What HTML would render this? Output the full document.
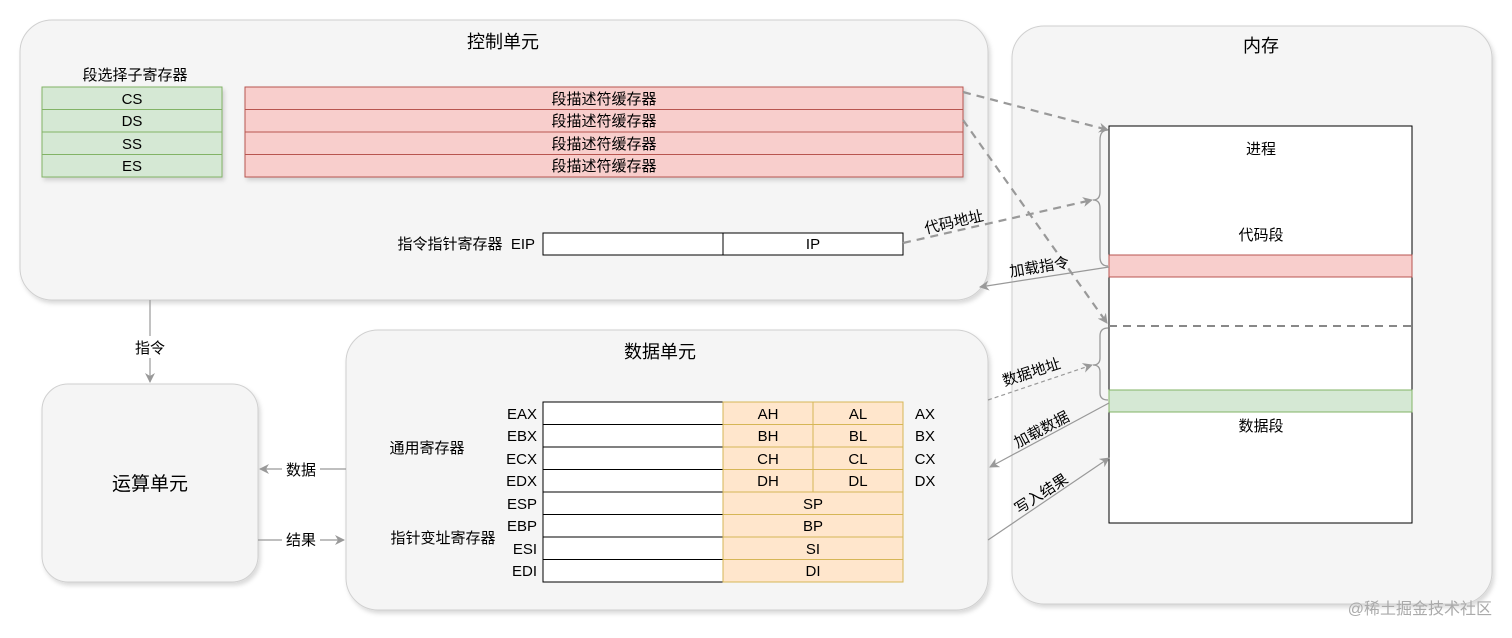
<!DOCTYPE html>
<html><head><meta charset="utf-8"><style>
html,body{margin:0;padding:0;background:#fff;}
svg{display:block;font-family:"Liberation Sans","Noto Sans CJK SC",sans-serif;}
text{font-size:15px;fill:#000;}
</style></head><body>
<svg width="1512" height="638" viewBox="0 0 1512 638" xmlns="http://www.w3.org/2000/svg">
<defs>
<filter id="sh" x="-5%" y="-5%" width="110%" height="115%"><feDropShadow dx="2" dy="3" stdDeviation="2" flood-color="#000" flood-opacity="0.15"/></filter>
<marker id="ar" markerWidth="10" markerHeight="10" refX="9" refY="5" orient="auto" markerUnits="userSpaceOnUse"><path d="M0,0 L10,5 L0,10 L3,5 Z" fill="#999"/></marker>
</defs>
<rect x="20" y="20" width="968" height="280" rx="32" fill="#f5f5f5" stroke="#d0d0d0" filter="url(#sh)"/>
<rect x="1012" y="26" width="480" height="578" rx="32" fill="#f5f5f5" stroke="#d0d0d0" filter="url(#sh)"/>
<rect x="346" y="330" width="642" height="280" rx="32" fill="#f5f5f5" stroke="#d0d0d0" filter="url(#sh)"/>
<rect x="42" y="384" width="216" height="198" rx="26" fill="#f5f5f5" stroke="#d0d0d0" filter="url(#sh)"/>
<text x="503" y="48" text-anchor="middle" style="font-size:18px">控制单元</text>
<text x="1261" y="52" text-anchor="middle" style="font-size:18px">内存</text>
<text x="660" y="358" text-anchor="middle" style="font-size:18px">数据单元</text>
<text x="150" y="490" text-anchor="middle" style="font-size:19px">运算单元</text>
<text x="135" y="80" text-anchor="middle">段选择子寄存器</text>
<g stroke="#82b366" fill="#d5e8d4" filter="url(#sh)">
<rect x="42" y="87" width="180" height="22.5"/><rect x="42" y="109.5" width="180" height="22.5"/><rect x="42" y="132" width="180" height="22.5"/><rect x="42" y="154.5" width="180" height="22.5"/>
</g>
<g stroke="#b85450" fill="#f8cecc" filter="url(#sh)">
<rect x="245" y="87" width="718" height="22.5"/><rect x="245" y="109.5" width="718" height="22.5"/><rect x="245" y="132" width="718" height="22.5"/><rect x="245" y="154.5" width="718" height="22.5"/>
</g>
<g text-anchor="middle">
<text x="132" y="104">CS</text><text x="132" y="126">DS</text><text x="132" y="149">SS</text><text x="132" y="171">ES</text>
<text x="604" y="104">段描述符缓存器</text><text x="604" y="126">段描述符缓存器</text><text x="604" y="149">段描述符缓存器</text><text x="604" y="171">段描述符缓存器</text>
</g>
<text x="535" y="249" text-anchor="end" xml:space="preserve">指令指针寄存器  EIP</text>
<rect x="543" y="233" width="180" height="22" fill="#fff" stroke="#000"/>
<rect x="723" y="233" width="180" height="22" fill="#fff" stroke="#000"/>
<text x="813" y="249" text-anchor="middle">IP</text>
<rect x="1109" y="126" width="303" height="397" fill="#fff" stroke="#000"/>
<rect x="1109" y="255" width="303" height="22" fill="#f8cecc" stroke="#b85450"/>
<rect x="1109" y="390" width="303" height="22" fill="#d5e8d4" stroke="#82b366"/>
<line x1="1109" y1="326" x2="1412" y2="326" stroke="#888" stroke-width="2" stroke-dasharray="8,6"/>
<text x="1261" y="154" text-anchor="middle">进程</text>
<text x="1261" y="240" text-anchor="middle">代码段</text>
<text x="1261" y="431" text-anchor="middle">数据段</text>
<path d="M1108,130 Q1100,130 1100,140 L1100,192 Q1100,200 1093,200 Q1100,200 1100,208 L1100,257 Q1100,266 1108,266" fill="none" stroke="#999" stroke-width="1.3"/>
<path d="M1108,328 Q1100,328 1100,336 L1100,358 Q1100,365 1093,365 Q1100,365 1100,372 L1100,393 Q1100,400 1108,400" fill="none" stroke="#999" stroke-width="1.3"/>
<g stroke="#000" fill="#fff">
<rect x="543" y="402" width="180" height="22.5"/><rect x="543" y="424.5" width="180" height="22.5"/><rect x="543" y="447" width="180" height="22.5"/><rect x="543" y="469.5" width="180" height="22.5"/>
<rect x="543" y="492" width="180" height="22.5"/><rect x="543" y="514.5" width="180" height="22.5"/><rect x="543" y="537" width="180" height="22.5"/><rect x="543" y="559.5" width="180" height="22.5"/>
</g>
<g fill="#ffe6cc" stroke="#d6b656">
<rect x="723" y="402" width="90" height="22.5"/><rect x="813" y="402" width="90" height="22.5"/>
<rect x="723" y="424.5" width="90" height="22.5"/><rect x="813" y="424.5" width="90" height="22.5"/>
<rect x="723" y="447" width="90" height="22.5"/><rect x="813" y="447" width="90" height="22.5"/>
<rect x="723" y="469.5" width="90" height="22.5"/><rect x="813" y="469.5" width="90" height="22.5"/>
<rect x="723" y="492" width="180" height="22.5"/><rect x="723" y="514.5" width="180" height="22.5"/><rect x="723" y="537" width="180" height="22.5"/><rect x="723" y="559.5" width="180" height="22.5"/>
</g>
<g text-anchor="end">
<text x="537" y="419">EAX</text><text x="537" y="441">EBX</text><text x="537" y="464">ECX</text><text x="537" y="486">EDX</text>
<text x="537" y="509">ESP</text><text x="537" y="531">EBP</text><text x="537" y="554">ESI</text><text x="537" y="576">EDI</text>
</g>
<g text-anchor="middle">
<text x="768" y="419">AH</text><text x="858" y="419">AL</text>
<text x="768" y="441">BH</text><text x="858" y="441">BL</text>
<text x="768" y="464">CH</text><text x="858" y="464">CL</text>
<text x="768" y="486">DH</text><text x="858" y="486">DL</text>
<text x="813" y="509">SP</text><text x="813" y="531">BP</text><text x="813" y="554">SI</text><text x="813" y="576">DI</text>
<text x="925" y="419">AX</text><text x="925" y="441">BX</text><text x="925" y="464">CX</text><text x="925" y="486">DX</text>
</g>
<text x="427" y="453" text-anchor="middle">通用寄存器</text>
<text x="443" y="543" text-anchor="middle">指针变址寄存器</text>
<g stroke="#999" stroke-width="1.2" fill="none" marker-end="url(#ar)">
<line x1="150" y1="300" x2="150" y2="382"/>
<line x1="346" y1="469" x2="260" y2="469"/>
<line x1="258" y1="540" x2="344" y2="540"/>
<line x1="1109" y1="267" x2="980" y2="287"/>
<line x1="1109" y1="403" x2="990" y2="467"/>
<line x1="988" y1="540" x2="1109" y2="458"/>
<line x1="988" y1="400" x2="1092" y2="365" stroke-dasharray="4,3"/>
</g>
<g stroke="#999" stroke-width="2.2" fill="none" stroke-dasharray="8,6" marker-end="url(#ar)">
<line x1="963" y1="92" x2="1108" y2="130"/>
<line x1="963" y1="120" x2="1107" y2="323"/>
<line x1="903" y1="243" x2="1092" y2="200"/>
</g>
<g>
<rect x="132" y="336" width="36" height="22" fill="#fff"/><text x="150" y="353" text-anchor="middle">指令</text>
<rect x="282" y="460" width="38" height="20" fill="#fff"/><text x="301" y="475" text-anchor="middle">数据</text>
<rect x="282" y="530" width="38" height="20" fill="#fff"/><text x="301" y="545" text-anchor="middle">结果</text>
</g>
<text transform="translate(955,227) rotate(-13)" text-anchor="middle">代码地址</text>
<text transform="translate(1040,272) rotate(-9)" text-anchor="middle">加载指令</text>
<text transform="translate(1033,377) rotate(-18)" text-anchor="middle">数据地址</text>
<text transform="translate(1044,434) rotate(-28)" text-anchor="middle">加载数据</text>
<text transform="translate(1044,498) rotate(-33)" text-anchor="middle">写入结果</text>
<text x="1492" y="614" text-anchor="end" style="fill:#aaa;font-size:16px">@稀土掘金技术社区</text>
</svg>
</body></html>
